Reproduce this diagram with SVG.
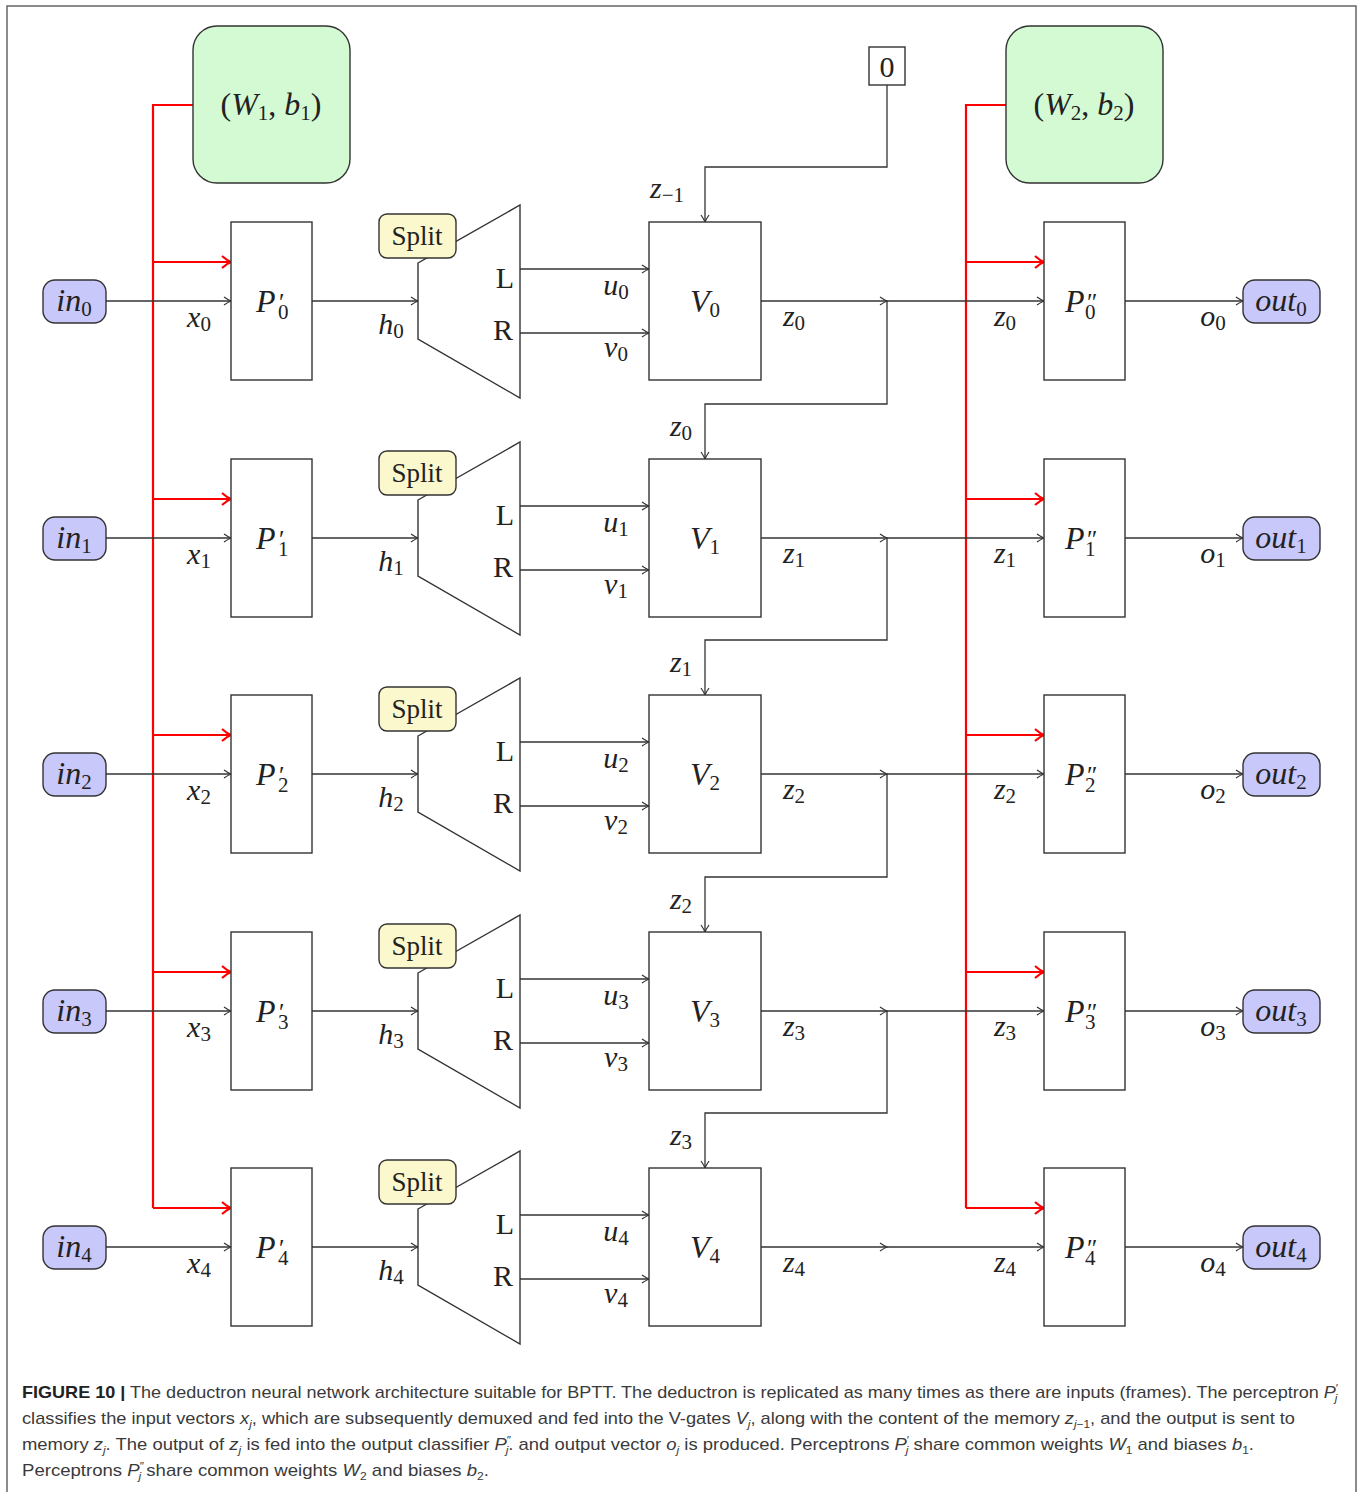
<svg xmlns="http://www.w3.org/2000/svg" width="1363" height="1492" viewBox="0 0 1363 1492">
<defs>
<style>
.frame{fill:none;stroke:#666;stroke-width:1.5}
.box{fill:#fff;stroke:#333;stroke-width:1.4}
.io{fill:#c8c8fa;stroke:#333;stroke-width:1.4}
.wb{fill:#d4fad4;stroke:#333;stroke-width:1.4}
.sp{fill:#fbf8cd;stroke:#333;stroke-width:1.4}
.ar{fill:none;stroke:#333;stroke-width:1.3;marker-end:url(#ah)}
.rd{fill:none;stroke:#f00;stroke-width:2.2}
.ra{fill:none;stroke:#f00;stroke-width:2.2;marker-end:url(#rh)}
.mi{font-family:"Liberation Serif","DejaVu Serif",serif;font-style:italic;font-size:32px;fill:#222}
.lb{font-family:"Liberation Serif","DejaVu Serif",serif;font-style:italic;font-size:30px;fill:#222}
.sb{font-family:"Liberation Serif","DejaVu Serif",serif;font-style:normal;font-size:21px}
.pr{font-family:"Liberation Serif","DejaVu Serif",serif;font-style:normal;font-size:25px}
.rm{font-family:"Liberation Serif","DejaVu Serif",serif;font-size:30px;fill:#222}
.spt{font-family:"Liberation Serif","DejaVu Serif",serif;font-size:27px;fill:#222}
.cap{font-family:"Liberation Sans","Arial",sans-serif;font-size:17px;fill:#3a3a3a}
.cb{font-weight:bold;fill:#222}
.ci{font-style:italic}
.cs{font-size:11px}
</style>
<marker id="ah" markerUnits="userSpaceOnUse" markerWidth="14" markerHeight="14" viewBox="-10 -7 12 14" refX="0" refY="0" orient="auto" overflow="visible">
<path d="M-7,-4 Q-3,-1.2 0,0 Q-3,1.2 -7,4" fill="none" stroke="#333" stroke-width="1.2"/>
</marker>
<marker id="rh" markerUnits="userSpaceOnUse" markerWidth="16" markerHeight="16" viewBox="-12 -8 14 16" refX="0" refY="0" orient="auto" overflow="visible">
<path d="M-9,-6 Q-4,-1.5 0,0 Q-4,1.5 -9,6" fill="none" stroke="#f00" stroke-width="2.2"/>
</marker>
</defs>
<rect width="1363" height="1492" fill="#fff"/>
<path class="frame" d="M7,1492 V6 H1356 V1492"/>

<g id="connectors">
  <path class="rd" d="M193,105 H153 V1208"/>
  <path class="ra" d="M153,1208 H231"/>
  <path class="ra" d="M153,262 H231"/>
  <path class="ra" d="M153,499 H231"/>
  <path class="ra" d="M153,735 H231"/>
  <path class="ra" d="M153,972 H231"/>
  <path class="rd" d="M1006,105 H966 V1208"/>
  <path class="ra" d="M966,1208 H1044"/>
  <path class="ra" d="M966,262 H1044"/>
  <path class="ra" d="M966,499 H1044"/>
  <path class="ra" d="M966,735 H1044"/>
  <path class="ra" d="M966,972 H1044"/>
  <path class="ar" d="M887,85 V167 H705 V222"/>
  <text class="lb" x="650" y="198">z<tspan class="sb" dy="4">−1</tspan></text>
  <g id="row0-conn">
    <path class="ar" d="M106,301 H231"/><text class="lb" x="199" y="327" text-anchor="middle">x<tspan class="sb" dy="4">0</tspan></text>
    <path class="ar" d="M312,301 H418"/><text class="lb" x="391" y="334" text-anchor="middle">h<tspan class="sb" dy="4">0</tspan></text>
    <path class="ar" d="M520,269 H649"/><text class="lb" x="616" y="295" text-anchor="middle">u<tspan class="sb" dy="4">0</tspan></text>
    <path class="ar" d="M520,333 H649"/><text class="lb" x="616" y="357" text-anchor="middle">v<tspan class="sb" dy="4">0</tspan></text>
    <path class="ar" d="M761,301 H887"/><path class="ar" d="M887,301 H1044"/>
    <text class="lb" x="794" y="326" text-anchor="middle">z<tspan class="sb" dy="4">0</tspan></text>
    <text class="lb" x="1005" y="326" text-anchor="middle">z<tspan class="sb" dy="4">0</tspan></text>
    <path class="ar" d="M887,301 V404 H705 V459"/><text class="lb" x="681" y="436" text-anchor="middle">z<tspan class="sb" dy="4">0</tspan></text>
    <path class="ar" d="M1125,301 H1243"/><text class="lb" x="1213" y="326" text-anchor="middle">o<tspan class="sb" dy="4">0</tspan></text>
  </g>
  <g id="row1-conn" transform="translate(0,237)">
    <path class="ar" d="M106,301 H231"/><text class="lb" x="199" y="327" text-anchor="middle">x<tspan class="sb" dy="4">1</tspan></text>
    <path class="ar" d="M312,301 H418"/><text class="lb" x="391" y="334" text-anchor="middle">h<tspan class="sb" dy="4">1</tspan></text>
    <path class="ar" d="M520,269 H649"/><text class="lb" x="616" y="295" text-anchor="middle">u<tspan class="sb" dy="4">1</tspan></text>
    <path class="ar" d="M520,333 H649"/><text class="lb" x="616" y="357" text-anchor="middle">v<tspan class="sb" dy="4">1</tspan></text>
    <path class="ar" d="M761,301 H887"/><path class="ar" d="M887,301 H1044"/>
    <text class="lb" x="794" y="326" text-anchor="middle">z<tspan class="sb" dy="4">1</tspan></text>
    <text class="lb" x="1005" y="326" text-anchor="middle">z<tspan class="sb" dy="4">1</tspan></text>
    <path class="ar" d="M887,301 V403 H705 V458"/><text class="lb" x="681" y="435" text-anchor="middle">z<tspan class="sb" dy="4">1</tspan></text>
    <path class="ar" d="M1125,301 H1243"/><text class="lb" x="1213" y="326" text-anchor="middle">o<tspan class="sb" dy="4">1</tspan></text>
  </g>
  <g id="row2-conn" transform="translate(0,473)">
    <path class="ar" d="M106,301 H231"/><text class="lb" x="199" y="327" text-anchor="middle">x<tspan class="sb" dy="4">2</tspan></text>
    <path class="ar" d="M312,301 H418"/><text class="lb" x="391" y="334" text-anchor="middle">h<tspan class="sb" dy="4">2</tspan></text>
    <path class="ar" d="M520,269 H649"/><text class="lb" x="616" y="295" text-anchor="middle">u<tspan class="sb" dy="4">2</tspan></text>
    <path class="ar" d="M520,333 H649"/><text class="lb" x="616" y="357" text-anchor="middle">v<tspan class="sb" dy="4">2</tspan></text>
    <path class="ar" d="M761,301 H887"/><path class="ar" d="M887,301 H1044"/>
    <text class="lb" x="794" y="326" text-anchor="middle">z<tspan class="sb" dy="4">2</tspan></text>
    <text class="lb" x="1005" y="326" text-anchor="middle">z<tspan class="sb" dy="4">2</tspan></text>
    <path class="ar" d="M887,301 V404 H705 V459"/><text class="lb" x="681" y="436" text-anchor="middle">z<tspan class="sb" dy="4">2</tspan></text>
    <path class="ar" d="M1125,301 H1243"/><text class="lb" x="1213" y="326" text-anchor="middle">o<tspan class="sb" dy="4">2</tspan></text>
  </g>
  <g id="row3-conn" transform="translate(0,710)">
    <path class="ar" d="M106,301 H231"/><text class="lb" x="199" y="327" text-anchor="middle">x<tspan class="sb" dy="4">3</tspan></text>
    <path class="ar" d="M312,301 H418"/><text class="lb" x="391" y="334" text-anchor="middle">h<tspan class="sb" dy="4">3</tspan></text>
    <path class="ar" d="M520,269 H649"/><text class="lb" x="616" y="295" text-anchor="middle">u<tspan class="sb" dy="4">3</tspan></text>
    <path class="ar" d="M520,333 H649"/><text class="lb" x="616" y="357" text-anchor="middle">v<tspan class="sb" dy="4">3</tspan></text>
    <path class="ar" d="M761,301 H887"/><path class="ar" d="M887,301 H1044"/>
    <text class="lb" x="794" y="326" text-anchor="middle">z<tspan class="sb" dy="4">3</tspan></text>
    <text class="lb" x="1005" y="326" text-anchor="middle">z<tspan class="sb" dy="4">3</tspan></text>
    <path class="ar" d="M887,301 V403 H705 V458"/><text class="lb" x="681" y="435" text-anchor="middle">z<tspan class="sb" dy="4">3</tspan></text>
    <path class="ar" d="M1125,301 H1243"/><text class="lb" x="1213" y="326" text-anchor="middle">o<tspan class="sb" dy="4">3</tspan></text>
  </g>
  <g id="row4-conn" transform="translate(0,946)">
    <path class="ar" d="M106,301 H231"/><text class="lb" x="199" y="327" text-anchor="middle">x<tspan class="sb" dy="4">4</tspan></text>
    <path class="ar" d="M312,301 H418"/><text class="lb" x="391" y="334" text-anchor="middle">h<tspan class="sb" dy="4">4</tspan></text>
    <path class="ar" d="M520,269 H649"/><text class="lb" x="616" y="295" text-anchor="middle">u<tspan class="sb" dy="4">4</tspan></text>
    <path class="ar" d="M520,333 H649"/><text class="lb" x="616" y="357" text-anchor="middle">v<tspan class="sb" dy="4">4</tspan></text>
    <path class="ar" d="M761,301 H887"/><path class="ar" d="M887,301 H1044"/>
    <text class="lb" x="794" y="326" text-anchor="middle">z<tspan class="sb" dy="4">4</tspan></text>
    <text class="lb" x="1005" y="326" text-anchor="middle">z<tspan class="sb" dy="4">4</tspan></text>
    <path class="ar" d="M1125,301 H1243"/><text class="lb" x="1213" y="326" text-anchor="middle">o<tspan class="sb" dy="4">4</tspan></text>
  </g>
</g>

<g id="W1b1"><rect class="wb" x="193" y="26" width="157" height="157" rx="24"/>
<text class="mi" x="271" y="115" text-anchor="middle"><tspan font-style="normal">(</tspan>W<tspan class="sb" dy="5">1</tspan><tspan dy="-5" font-style="normal">, </tspan>b<tspan class="sb" dy="5">1</tspan><tspan dy="-5" font-style="normal">)</tspan></text></g>
<g id="W2b2"><rect class="wb" x="1006" y="26" width="157" height="157" rx="24"/>
<text class="mi" x="1084" y="115" text-anchor="middle"><tspan font-style="normal">(</tspan>W<tspan class="sb" dy="5">2</tspan><tspan dy="-5" font-style="normal">, </tspan>b<tspan class="sb" dy="5">2</tspan><tspan dy="-5" font-style="normal">)</tspan></text></g>
<g id="zero"><rect class="box" x="869" y="47" width="36" height="38"/><text class="rm" x="887" y="77" text-anchor="middle">0</text></g>

<!-- Row 0 -->
<g id="in0"><rect class="io" x="43" y="280" width="63" height="43" rx="12"/><text class="mi" x="74" y="311" text-anchor="middle">in<tspan class="sb" dy="5">0</tspan></text></g>
<g id="Pp0"><rect class="box" x="231" y="222" width="81" height="158"/><text class="mi" x="256" y="312">P<tspan class="pr" x="279" y="311">′</tspan><tspan class="sb" x="278" y="319">0</tspan></text></g>
<g id="split0"><path class="box" d="M418,263 L520,205 V398 L418,339 Z"/><rect class="sp" x="379" y="214" width="77" height="44" rx="8"/><text class="spt" x="417" y="245" text-anchor="middle">Split</text><text class="rm" x="505" y="288" text-anchor="middle">L</text><text class="rm" x="503" y="340" text-anchor="middle">R</text></g>
<g id="V0"><rect class="box" x="649" y="222" width="112" height="158"/><text class="mi" x="705" y="312" text-anchor="middle">V<tspan class="sb" dy="5">0</tspan></text></g>
<g id="Ppp0"><rect class="box" x="1044" y="222" width="81" height="158"/><text class="mi" x="1065" y="312">P<tspan class="pr" x="1087" y="311">″</tspan><tspan class="sb" x="1085" y="319">0</tspan></text></g>
<g id="out0"><rect class="io" x="1243" y="280" width="77" height="43" rx="12"/><text class="mi" x="1281" y="311" text-anchor="middle">out<tspan class="sb" dy="5">0</tspan></text></g>

<!-- Row 1 -->
<g id="in1" transform="translate(0,237)"><rect class="io" x="43" y="280" width="63" height="43" rx="12"/><text class="mi" x="74" y="311" text-anchor="middle">in<tspan class="sb" dy="5">1</tspan></text></g>
<g id="Pp1" transform="translate(0,237)"><rect class="box" x="231" y="222" width="81" height="158"/><text class="mi" x="256" y="312">P<tspan class="pr" x="279" y="311">′</tspan><tspan class="sb" x="278" y="319">1</tspan></text></g>
<g id="split1" transform="translate(0,237)"><path class="box" d="M418,263 L520,205 V398 L418,339 Z"/><rect class="sp" x="379" y="214" width="77" height="44" rx="8"/><text class="spt" x="417" y="245" text-anchor="middle">Split</text><text class="rm" x="505" y="288" text-anchor="middle">L</text><text class="rm" x="503" y="340" text-anchor="middle">R</text></g>
<g id="V1" transform="translate(0,237)"><rect class="box" x="649" y="222" width="112" height="158"/><text class="mi" x="705" y="312" text-anchor="middle">V<tspan class="sb" dy="5">1</tspan></text></g>
<g id="Ppp1" transform="translate(0,237)"><rect class="box" x="1044" y="222" width="81" height="158"/><text class="mi" x="1065" y="312">P<tspan class="pr" x="1087" y="311">″</tspan><tspan class="sb" x="1085" y="319">1</tspan></text></g>
<g id="out1" transform="translate(0,237)"><rect class="io" x="1243" y="280" width="77" height="43" rx="12"/><text class="mi" x="1281" y="311" text-anchor="middle">out<tspan class="sb" dy="5">1</tspan></text></g>

<!-- Row 2 -->
<g id="in2" transform="translate(0,473)"><rect class="io" x="43" y="280" width="63" height="43" rx="12"/><text class="mi" x="74" y="311" text-anchor="middle">in<tspan class="sb" dy="5">2</tspan></text></g>
<g id="Pp2" transform="translate(0,473)"><rect class="box" x="231" y="222" width="81" height="158"/><text class="mi" x="256" y="312">P<tspan class="pr" x="279" y="311">′</tspan><tspan class="sb" x="278" y="319">2</tspan></text></g>
<g id="split2" transform="translate(0,473)"><path class="box" d="M418,263 L520,205 V398 L418,339 Z"/><rect class="sp" x="379" y="214" width="77" height="44" rx="8"/><text class="spt" x="417" y="245" text-anchor="middle">Split</text><text class="rm" x="505" y="288" text-anchor="middle">L</text><text class="rm" x="503" y="340" text-anchor="middle">R</text></g>
<g id="V2" transform="translate(0,473)"><rect class="box" x="649" y="222" width="112" height="158"/><text class="mi" x="705" y="312" text-anchor="middle">V<tspan class="sb" dy="5">2</tspan></text></g>
<g id="Ppp2" transform="translate(0,473)"><rect class="box" x="1044" y="222" width="81" height="158"/><text class="mi" x="1065" y="312">P<tspan class="pr" x="1087" y="311">″</tspan><tspan class="sb" x="1085" y="319">2</tspan></text></g>
<g id="out2" transform="translate(0,473)"><rect class="io" x="1243" y="280" width="77" height="43" rx="12"/><text class="mi" x="1281" y="311" text-anchor="middle">out<tspan class="sb" dy="5">2</tspan></text></g>

<!-- Row 3 -->
<g id="in3" transform="translate(0,710)"><rect class="io" x="43" y="280" width="63" height="43" rx="12"/><text class="mi" x="74" y="311" text-anchor="middle">in<tspan class="sb" dy="5">3</tspan></text></g>
<g id="Pp3" transform="translate(0,710)"><rect class="box" x="231" y="222" width="81" height="158"/><text class="mi" x="256" y="312">P<tspan class="pr" x="279" y="311">′</tspan><tspan class="sb" x="278" y="319">3</tspan></text></g>
<g id="split3" transform="translate(0,710)"><path class="box" d="M418,263 L520,205 V398 L418,339 Z"/><rect class="sp" x="379" y="214" width="77" height="44" rx="8"/><text class="spt" x="417" y="245" text-anchor="middle">Split</text><text class="rm" x="505" y="288" text-anchor="middle">L</text><text class="rm" x="503" y="340" text-anchor="middle">R</text></g>
<g id="V3" transform="translate(0,710)"><rect class="box" x="649" y="222" width="112" height="158"/><text class="mi" x="705" y="312" text-anchor="middle">V<tspan class="sb" dy="5">3</tspan></text></g>
<g id="Ppp3" transform="translate(0,710)"><rect class="box" x="1044" y="222" width="81" height="158"/><text class="mi" x="1065" y="312">P<tspan class="pr" x="1087" y="311">″</tspan><tspan class="sb" x="1085" y="319">3</tspan></text></g>
<g id="out3" transform="translate(0,710)"><rect class="io" x="1243" y="280" width="77" height="43" rx="12"/><text class="mi" x="1281" y="311" text-anchor="middle">out<tspan class="sb" dy="5">3</tspan></text></g>

<!-- Row 4 -->
<g id="in4" transform="translate(0,946)"><rect class="io" x="43" y="280" width="63" height="43" rx="12"/><text class="mi" x="74" y="311" text-anchor="middle">in<tspan class="sb" dy="5">4</tspan></text></g>
<g id="Pp4" transform="translate(0,946)"><rect class="box" x="231" y="222" width="81" height="158"/><text class="mi" x="256" y="312">P<tspan class="pr" x="279" y="311">′</tspan><tspan class="sb" x="278" y="319">4</tspan></text></g>
<g id="split4" transform="translate(0,946)"><path class="box" d="M418,263 L520,205 V398 L418,339 Z"/><rect class="sp" x="379" y="214" width="77" height="44" rx="8"/><text class="spt" x="417" y="245" text-anchor="middle">Split</text><text class="rm" x="505" y="288" text-anchor="middle">L</text><text class="rm" x="503" y="340" text-anchor="middle">R</text></g>
<g id="V4" transform="translate(0,946)"><rect class="box" x="649" y="222" width="112" height="158"/><text class="mi" x="705" y="312" text-anchor="middle">V<tspan class="sb" dy="5">4</tspan></text></g>
<g id="Ppp4" transform="translate(0,946)"><rect class="box" x="1044" y="222" width="81" height="158"/><text class="mi" x="1065" y="312">P<tspan class="pr" x="1087" y="311">″</tspan><tspan class="sb" x="1085" y="319">4</tspan></text></g>
<g id="out4" transform="translate(0,946)"><rect class="io" x="1243" y="280" width="77" height="43" rx="12"/><text class="mi" x="1281" y="311" text-anchor="middle">out<tspan class="sb" dy="5">4</tspan></text></g>

<g id="caption">
<text class="cap" x="22" y="1398" textLength="1316" lengthAdjust="spacingAndGlyphs"><tspan class="cb">FIGURE 10 |</tspan> The deductron neural network architecture suitable for BPTT. The deductron is replicated as many times as there are inputs (frames). The perceptron <tspan class="ci">P</tspan><tspan class="cs" dy="-6">′</tspan><tspan class="cs ci" dx="-3" dy="10">j</tspan></text>
<text class="cap" x="22" y="1424" textLength="1273" lengthAdjust="spacingAndGlyphs">classifies the input vectors <tspan class="ci">x</tspan><tspan class="cs ci" dy="4">j</tspan><tspan dy="-4">, which are subsequently demuxed and fed into the V-gates </tspan><tspan class="ci">V</tspan><tspan class="cs ci" dy="4">j</tspan><tspan dy="-4">, along with the content of the memory </tspan><tspan class="ci">z</tspan><tspan class="cs" dy="4"><tspan class="ci">j</tspan>−1</tspan><tspan dy="-4">, and the output is sent to</tspan></text>
<text class="cap" x="22" y="1450" textLength="1232" lengthAdjust="spacingAndGlyphs">memory <tspan class="ci">z</tspan><tspan class="cs ci" dy="4">j</tspan><tspan dy="-4">. The output of </tspan><tspan class="ci">z</tspan><tspan class="cs ci" dy="4">j</tspan><tspan dy="-4"> is fed into the output classifier </tspan><tspan class="ci">P</tspan><tspan class="cs" dy="-6">″</tspan><tspan class="cs ci" dx="-5" dy="10">j</tspan><tspan dy="-4">. and output vector </tspan><tspan class="ci">o</tspan><tspan class="cs ci" dy="4">j</tspan><tspan dy="-4"> is produced. Perceptrons </tspan><tspan class="ci">P</tspan><tspan class="cs" dy="-6">′</tspan><tspan class="cs ci" dx="-3" dy="10">j</tspan><tspan dy="-4"> share common weights </tspan><tspan class="ci">W</tspan><tspan class="cs" dy="4">1</tspan><tspan dy="-4"> and biases </tspan><tspan class="ci">b</tspan><tspan class="cs" dy="4">1</tspan><tspan dy="-4">.</tspan></text>
<text class="cap" x="22" y="1476" textLength="467" lengthAdjust="spacingAndGlyphs">Perceptrons <tspan class="ci">P</tspan><tspan class="cs" dy="-6">″</tspan><tspan class="cs ci" dx="-5" dy="10">j</tspan><tspan dy="-4"> share common weights </tspan><tspan class="ci">W</tspan><tspan class="cs" dy="4">2</tspan><tspan dy="-4"> and biases </tspan><tspan class="ci">b</tspan><tspan class="cs" dy="4">2</tspan><tspan dy="-4">.</tspan></text>
</g>
</svg>
